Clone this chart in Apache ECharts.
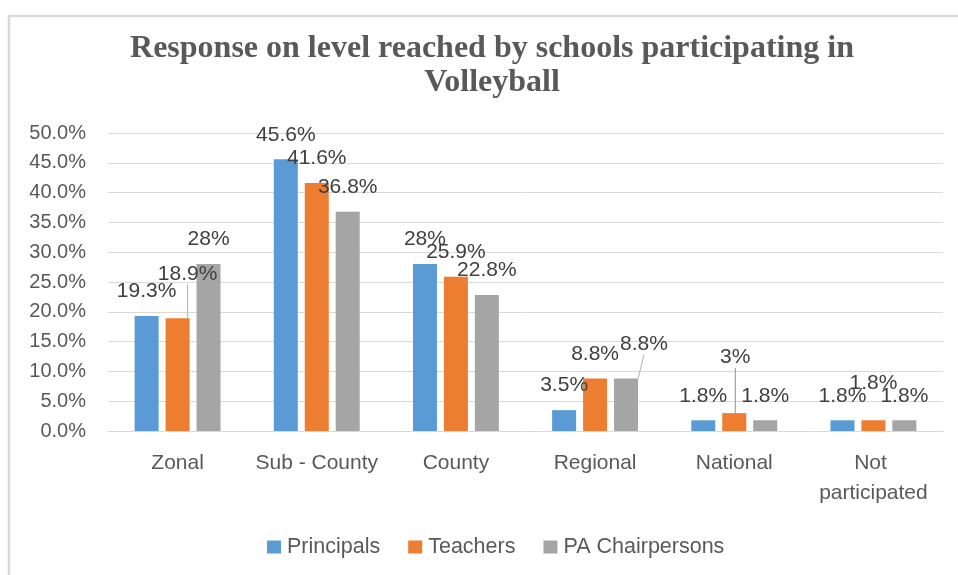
<!DOCTYPE html>
<html>
<head>
<meta charset="utf-8">
<script src="https://cdn.jsdelivr.net/npm/echarts@6/dist/echarts.min.js"></script>
<style>
  html, body { margin: 0; padding: 0; background: #ffffff; }
  #chart { width: 958px; height: 575px; }
</style>
</head>
<body>
<div id="chart"></div>
<script>
// Levels reached by schools in volleyball, by respondent group (percent)
const categories = ['Zonal', 'Sub - County', 'County', 'Regional', 'National', 'Not participated'];
const principals = [19.3, 45.6, 28, 3.5, 1.8, 1.8];
const teachers = [18.9, 41.6, 25.9, 8.8, 3, 1.8];
const paChairpersons = [28, 36.8, 22.8, 8.8, 1.8, 1.8];
// Printed label text for each series (as shown on the bars)
const principalsLabels = ['19.3%', '45.6%', '28%', '3.5%', '1.8%', '1.8%'];
const teachersLabels = ['18.9%', '41.6%', '25.9%', '8.8%', '3%', '1.8%'];
const paLabels = ['28%', '36.8%', '22.8%', '8.8%', '1.8%', '1.8%'];
const yTicks = [0, 5, 10, 15, 20, 25, 30, 35, 40, 45, 50];

const seriesNames = ['Principals', 'Teachers', 'PA Chairpersons'];
const colors = ['#5b9bd5', '#ed7d31', '#a5a5a5'];

// Hand-placed labels: [seriesIndex, dataIndex] -> shift and guide line
const labelShifts = {
  '1-0': { dx: 10, dy: -20, line: true },
  '2-3': { dx: 18, dy: -10, line: true },
  '1-4': { dx: 1, dy: -31, line: true },
  '1-5': { dx: 0, dy: -13, line: false }
};

const labelFont = 'Liberation Sans, Arial, sans-serif';

function makeSeries(idx, values, texts) {
  return {
    name: seriesNames[idx],
    type: 'bar',
    barWidth: 24,
    barGap: '29%',
    itemStyle: { color: colors[idx] },
    data: values.map(function (v, i) {
      const s = labelShifts[idx + '-' + i];
      const item = { value: v };
      if (s && s.line) {
        item.labelLine = { show: true, lineStyle: { color: idx === 1 && i === 4 ? '#8c8c8c' : '#b0b0b0', width: 1 } };
      }
      return item;
    }),
    label: {
      show: true,
      position: 'top',
      distance: 14,
      fontFamily: labelFont,
      fontSize: 21,
      color: '#404040',
      formatter: function (p) { return texts[p.dataIndex]; }
    },
    labelLine: { show: false, smooth: false, length2: 0 },
    labelLayout: function (p) {
      const s = labelShifts[idx + '-' + p.dataIndex];
      return s ? { dx: s.dx, dy: s.dy, hideOverlap: false } : { hideOverlap: false };
    }
  };
}

const chart = echarts.init(document.getElementById('chart'), null, { renderer: 'canvas' });
chart.setOption({
  animation: false,
  backgroundColor: '#ffffff',
  title: {
    text: 'Response on level reached by schools participating in\nVolleyball',
    left: 487,
    top: 27,
    textAlign: 'center',
    textStyle: {
      fontFamily: 'Liberation Serif, Times New Roman, serif',
      fontWeight: 'bold',
      fontSize: 32,
      lineHeight: 34,
      color: '#595959'
    }
  },
  graphic: [{
    type: 'rect',
    silent: true,
    shape: { x: 9, y: 16, width: 980, height: 600 },
    style: { fill: 'none', stroke: '#d9d9d9', lineWidth: 2.5 }
  }],
  legend: {
    data: seriesNames,
    left: 262,
    top: 531,
    icon: 'rect',
    itemWidth: 14,
    itemHeight: 13,
    itemGap: 28,
    textStyle: { fontFamily: labelFont, fontSize: 21.5, color: '#595959', padding: [0, 0, 0, 1] }
  },
  grid: { left: 108, right: 15, top: 133, bottom: 144, containLabel: false },
  xAxis: {
    type: 'category',
    data: categories,
    axisLine: { lineStyle: { color: '#d9d9d9', width: 1 } },
    axisTick: { show: false },
    axisLabel: {
      fontFamily: labelFont,
      fontSize: 21,
      color: '#595959',
      margin: 17,
      lineHeight: 30,
      width: 132,
      overflow: 'break',
      interval: 0
    }
  },
  yAxis: {
    type: 'value',
    min: yTicks[0],
    max: yTicks[yTicks.length - 1],
    interval: yTicks[1] - yTicks[0],
    axisLine: { show: false },
    axisTick: { show: false },
    splitLine: { lineStyle: { color: '#d9d9d9', width: 1 } },
    axisLabel: {
      fontFamily: labelFont,
      fontSize: 20,
      color: '#595959',
      margin: 22,
      formatter: function (v) { return v.toFixed(1) + '%'; }
    }
  },
  series: [
    makeSeries(0, principals, principalsLabels),
    makeSeries(1, teachers, teachersLabels),
    makeSeries(2, paChairpersons, paLabels)
  ]
});
</script>
</body>
</html>
